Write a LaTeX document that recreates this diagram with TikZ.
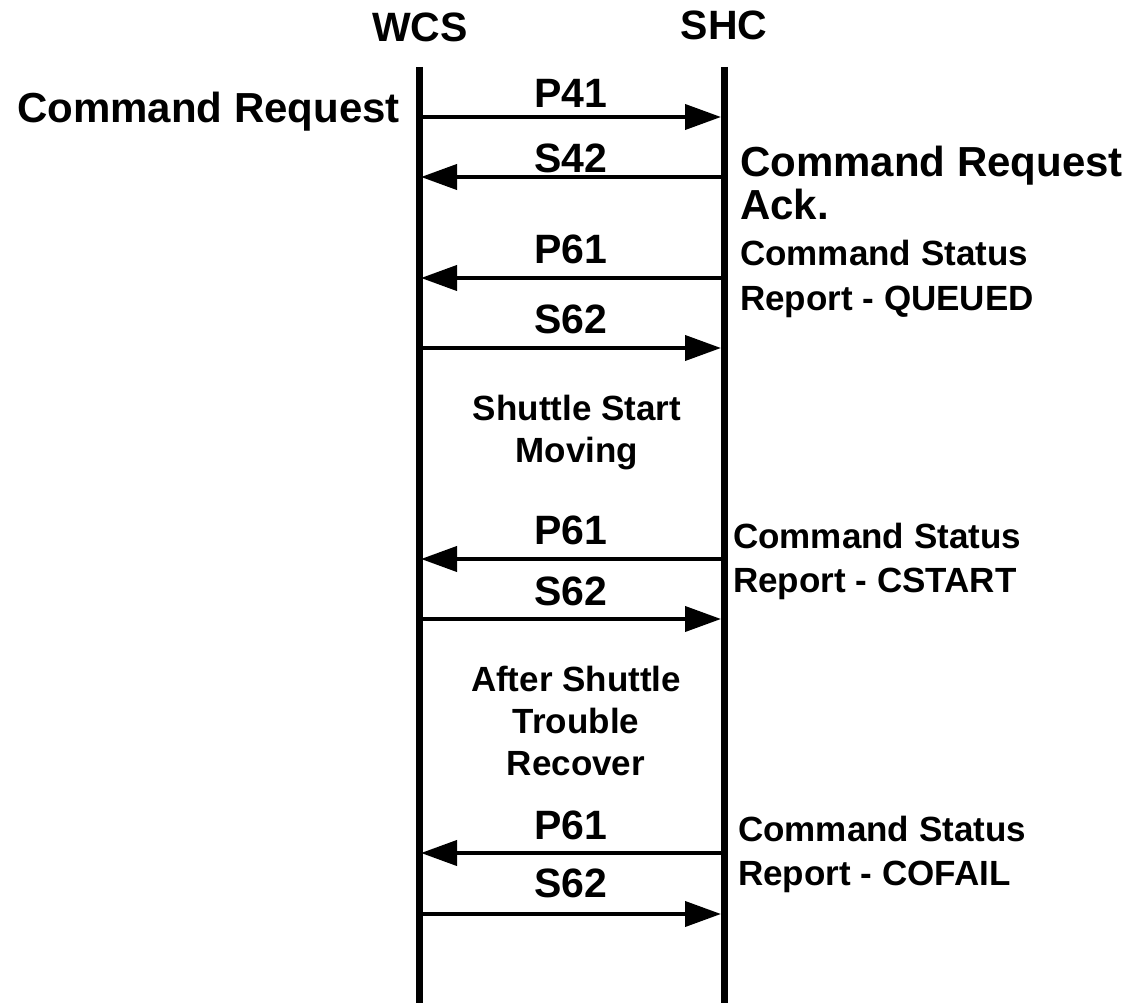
\documentclass[tikz,border=0pt]{standalone}
\usepackage{fontspec}
\setmainfont{Liberation Sans}
\usetikzlibrary{arrows.meta}
\tikzset{
  lifeline/.style={line width=7pt},
  msg/.style={line width=4pt, -{Triangle[length=36pt,width=25pt]}},
  msglabel/.style={inner sep=0pt, font=\bfseries\fontsize{41}{44}\selectfont},
  head/.style={inner sep=0pt, anchor=base, font=\bfseries\fontsize{41}{44}\selectfont},
  bignote/.style={inner sep=0pt, align=left, font=\bfseries\fontsize{42}{43}\selectfont},
  note/.style={inner sep=0pt, align=left, anchor=base west, font=\bfseries\fontsize{35}{44}\selectfont},
  midnote/.style={inner sep=0pt, align=center, anchor=base, font=\bfseries\fontsize{35}{42}\selectfont}
}
\begin{document}
\begin{tikzpicture}[x=1pt, y=-1pt]
            \useasboundingbox (0,0) rectangle (1144,1003);
            \node [head] (wcs) at (420,42) {WCS};
            \node [head] (shc) at (724,40) {SHC};
            \coordinate (wcstop) at (419.5,67);
            \coordinate (wcsend) at (419.5,1003);
            \coordinate (shctop) at (724,67);
            \coordinate (shcend) at (724,1003);
            \draw [lifeline] (wcstop)-- (wcsend);
            \draw [lifeline] (shctop)-- (shcend);
            \foreach \n/\y in {1/117, 2/177, 3/278, 4/348, 5/559, 6/619, 7/853, 8/914}{
              \coordinate (w\n) at (421,\y);
              \coordinate (s\n) at (721,\y);
            }
            \draw [msg] (w1)-- node [msglabel, above=7pt, pos=0.5]{P41} (s1);
            \draw [msg] (s2)-- node [msglabel, above=2pt, pos=0.5]{S42} (w2);
            \draw [msg] (s3)-- node [msglabel, above=12pt, pos=0.5]{P61} (w3);
            \draw [msg] (w4)-- node [msglabel, above=12pt, pos=0.5]{S62} (s4);
            \draw [msg] (s5)-- node [msglabel, above=12pt, pos=0.5]{P61} (w5);
            \draw [msg] (w6)-- node [msglabel, above=11pt, pos=0.5]{S62} (s6);
            \draw [msg] (s7)-- node [msglabel, above=11pt, pos=0.5]{P61} (w7);
            \draw [msg] (w8)-- node [msglabel, above=14pt, pos=0.5]{S62} (s8);
            \node [bignote, anchor=base east] (req) at (400,123) {Command Request};
            \node [bignote, anchor=base west] (ack) at (740,220) {Command Request\\Ack.};
            \node [note] (queued) at (740,310) {Command Status\\Report - QUEUED};
            \node [note] (cstart) at (733,592) {Command Status\\Report - CSTART};
            \node [note] (cofail) at (738,885) {Command Status\\Report - COFAIL};
            \node [midnote] (moving) at (577,462) {Shuttle Start\\Moving};
            \node [midnote] (recover) at (576,775) {After Shuttle\\Trouble\\Recover};
\end{tikzpicture}
\end{document}
